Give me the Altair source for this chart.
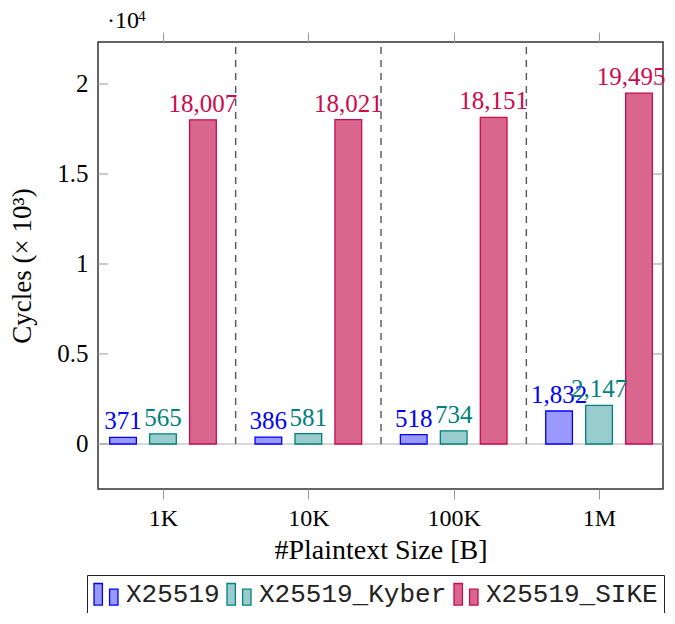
import altair as alt
import pandas as pd

categories = ["1K", "10K", "100K", "1M"]
series = ["X25519", "X25519_Kyber", "X25519_SIKE"]
x25519 = [371, 386, 518, 1832]
kyber = [565, 581, 734, 2147]
sike = [18007, 18021, 18151, 19495]
y_ticks = [0, 5000, 10000, 15000, 20000]

fills = ["#9999ff", "#99cccc", "#d9668c"]
strokes = ["#0000ff", "#008080", "#cc0a4d"]

rows = []
for s_i, (name, vals) in enumerate(zip(series, [x25519, kyber, sike])):
    for c_i, (cat, v) in enumerate(zip(categories, vals)):
        rows.append({"cat": cat, "ci": c_i + 1, "series": name, "si": s_i, "value": v})
df = pd.DataFrame(rows)

seps = pd.DataFrame({"sep": [i + 0.5 for i in range(1, len(categories))]})
yt = pd.DataFrame({"v": y_ticks})

W, H = 565, 447
XDOM = [0.553, 4.44]
YDOM = [-2500, 22333]
xscale = alt.Scale(domain=XDOM, nice=False, zero=False, padding=0)
yscale = alt.Scale(domain=YDOM, nice=False, zero=False, padding=0)
SERIF = "Liberation Serif"
MONO = "Liberation Mono"

sym = "M-1,-0.9H-0.3V0.9H-1Z M0.3,-0.43H1V0.9H0.3Z"
cat_expr = "[" + ",".join("'%s'" % c for c in categories) + "][datum.value-1]"
n_cat = len(categories)
edge_filter = "datum.ci == %d && datum.si == 2" % n_cat

base = alt.Chart(df).transform_calculate(xc="datum.ci + (datum.si - 1) * 0.275")

zero_line = alt.Chart(yt).transform_filter("datum.v == 0").mark_rule(
    color="#b0b0b0", strokeWidth=1.2
).encode(y=alt.Y("v:Q", scale=yscale, axis=None))

bars = base.mark_bar(width=26.7, strokeWidth=1.3, fillOpacity=1).encode(
    x=alt.X("xc:Q", scale=xscale,
            axis=alt.Axis(values=[1, 2, 3, 4], labelExpr=cat_expr, title="#Plaintext Size [B]",
                          orient="bottom", domain=False, grid=False, tickSize=10,
                          tickColor="#999999", labelFont=SERIF, labelFontSize=24,
                          labelColor="#000000", labelPadding=7, titleFont=SERIF,
                          titleFontSize=28, titleFontWeight="normal", titleColor="#000000",
                          titlePadding=6)),
    y=alt.Y("value:Q", scale=yscale,
            axis=alt.Axis(values=y_ticks, labelExpr="'' + datum.value/10000", domain=False,
                          ticks=False, grid=False, labelFont=SERIF, labelFontSize=25,
                          labelColor="#000000", labelPadding=10, title="Cycles (× 10³)",
                          titleFont=SERIF, titleFontSize=27, titleFontWeight="normal",
                          titleColor="#000000", titlePadding=20)),
    fill=alt.Fill("series:N", scale=alt.Scale(domain=series, range=fills),
                  legend=alt.Legend(title=None, symbolType=sym)),
    stroke=alt.Stroke("series:N", scale=alt.Scale(domain=series, range=strokes),
                      legend=alt.Legend(title=None, symbolType=sym)),
)

label_enc = dict(
    x=alt.X("xc:Q", scale=xscale, axis=None),
    y=alt.Y("value:Q", scale=yscale, axis=None),
    text=alt.Text("value:Q", format=","),
    color=alt.Color("series:N", scale=alt.Scale(domain=series, range=strokes), legend=None),
)
labels = base.transform_filter("!(" + edge_filter + ")").mark_text(
    baseline="alphabetic", dy=-8, font=SERIF, fontSize=25).encode(**label_enc)
labels_edge = base.transform_filter(edge_filter).mark_text(
    baseline="alphabetic", dy=-8, dx=-8, font=SERIF, fontSize=25).encode(**label_enc)

sep_rules = alt.Chart(seps).transform_calculate(y0="0", y1=str(YDOM[1])).mark_rule(
    color="#555555", strokeDash=[7, 6], strokeWidth=1.4
).encode(
    x=alt.X("sep:Q", scale=xscale,
            axis=alt.Axis(values=[1, 2, 3, 4], orient="top", labels=False, domain=False,
                          grid=False, tickSize=10, tickColor="#999999", title=None)),
    y=alt.Y("y0:Q", scale=yscale, axis=None),
    y2="y1:Q",
)

tick_l = alt.Chart(yt).mark_rule(color="#999999", strokeWidth=1).encode(
    y=alt.Y("v:Q", scale=yscale, axis=None), x=alt.value(0), x2=alt.value(10))
tick_r = alt.Chart(yt).mark_rule(color="#999999", strokeWidth=1).encode(
    y=alt.Y("v:Q", scale=yscale, axis=None), x=alt.value(W - 10), x2=alt.value(W))

exp_main = alt.Chart(pd.DataFrame({"t": ["·10"]})).mark_text(
    align="left", baseline="alphabetic", font=SERIF, fontSize=24, color="#000000"
).encode(text="t:N", x=alt.value(9), y=alt.value(-14))
exp_sup = alt.Chart(pd.DataFrame({"t": ["4"]})).mark_text(
    align="left", baseline="alphabetic", font=SERIF, fontSize=15.5, color="#000000"
).encode(text="t:N", x=alt.value(40), y=alt.value(-21))

chart = alt.layer(zero_line, sep_rules, bars, labels, labels_edge, tick_l, tick_r,
                  exp_main, exp_sup).resolve_axis(
    x="independent", y="independent"
).properties(
    width=W, height=H,
    autosize=alt.AutoSizeParams(type="none"),
    padding={"left": 90, "top": 34, "right": 4, "bottom": 124},
).configure_view(stroke="#333333", strokeWidth=1.5).configure_legend(
    orient="none", legendX=-11, legendY=533, direction="horizontal",
    strokeColor="#222222", padding=6, symbolSize=576, symbolStrokeWidth=1.3,
    labelFont=MONO, labelFontSize=26, labelColor="#222222", labelOffset=7,
    columnPadding=4, symbolOpacity=1, labelLimit=0,
)

chart.save("out.html", embed_options={"renderer": "svg", "actions": False})
